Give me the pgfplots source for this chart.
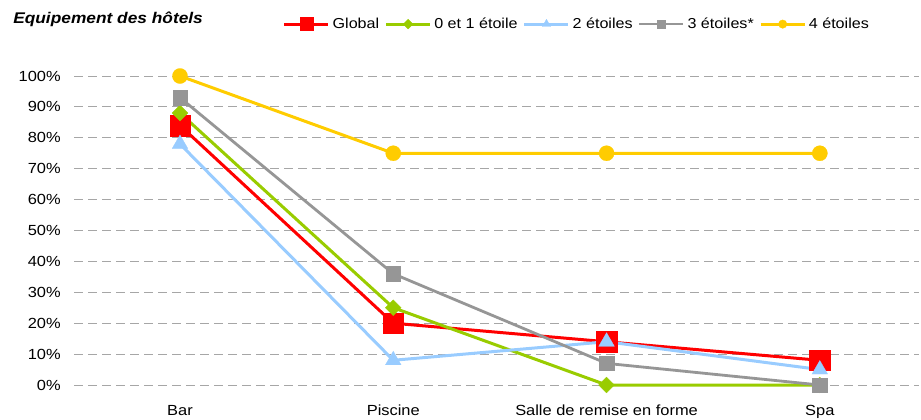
\documentclass[border=0pt]{standalone}
\usepackage{fontspec}
\setmainfont{Liberation Sans}[FakeStretch=1.12]
\usepackage{pgfplots}
\pgfplotsset{compat=1.18}

\definecolor{cGlobal}{HTML}{FF0000}
\definecolor{cUne}{HTML}{99CC00}
\definecolor{cDeux}{HTML}{99CCFF}
\definecolor{cTrois}{HTML}{969696}
\definecolor{cQuatre}{HTML}{FFCC00}
\definecolor{cGrid}{HTML}{A6A6A6}

\begin{document}
\begin{tikzpicture}
% page frame, 921 x 419 px at 0.75 pt per px
\path[use as bounding box] (0pt,0pt) rectangle (690.75pt,314.25pt);

\node[anchor=base west, inner sep=0pt, font=\fontsize{11.6}{13}\selectfont\bfseries\itshape]
  at (9.75pt,297pt) {Equipement des hôtels};

\begin{axis}[
  at={(55.5pt,25.5pt)}, anchor=south west,
  scale only axis,
  width=633.75pt, height=231.75pt,
  xmin=-0.497, xmax=3.465,
  ymin=0, ymax=100,
  clip=false,
  axis line style={draw=none},
  major tick length=0pt,
  xtick={0,1,2,3},
  xticklabels={Bar, Piscine, Salle de remise en forme, Spa},
  ytick={0,10,...,100},
  yticklabel={\pgfmathprintnumber{\tick}\%},
  /pgf/number format/assume math mode=true,
  tick label style={font=\fontsize{11}{13}\selectfont, inner sep=0pt},
  xticklabel style={anchor=base, yshift=-22.5pt},
  yticklabel style={anchor=east, xshift=-9.75pt},
  ymajorgrids,
  major grid style={draw=cGrid, line width=0.75pt, dash pattern=on 6.75pt off 3.75pt},
  legend columns=5,
  legend style={at={(0.2473,1.168)}, anchor=west, draw=none, fill=none,
    inner sep=0pt, outer sep=0pt,
    font=\fontsize{10.8}{13}\selectfont,
    nodes={inner sep=0pt},
    /tikz/every odd column/.append style={column sep=2pt},
    /tikz/every even column/.append style={column sep=4pt}},
  legend image code/.code={%
    \draw[mark repeat=2, mark phase=2] plot coordinates {(0pt,0pt) (16.5pt,0pt) (33pt,0pt)};},
]

% Global
\addplot[cGlobal, line width=2.25pt, mark=square*, mark size=7.7pt,
  mark options={solid, fill=cGlobal, draw=cGlobal, line width=0.2pt}, forget plot]
  coordinates {(0,84) (1,20) (2,14) (3,8)};
% 0 et 1 etoile
\addplot[cUne, line width=2.25pt, mark=square*, mark size=4.2pt,
  mark options={solid, fill=cUne, draw=cUne, line width=0.2pt, rotate=45}, forget plot]
  coordinates {(0,88) (1,25) (2,0) (3,0)};
% 2 etoiles
\addplot[cDeux, line width=2.25pt, mark=triangle*, mark size=6.8pt,
  mark options={solid, fill=cDeux, draw=cDeux, line width=0.2pt}, forget plot]
  coordinates {(0,78) (1,8) (2,14) (3,5)};
% 3 etoiles
\addplot[cTrois, line width=2.1pt, mark=square*, mark size=5.4pt,
  mark options={solid, fill=cTrois, draw=cTrois, line width=0.2pt}, forget plot]
  coordinates {(0,93) (1,36) (2,7) (3,0)};
% 4 etoiles
\addplot[cQuatre, line width=2.25pt, mark=*, mark size=5.7pt,
  mark options={solid, fill=cQuatre, draw=cQuatre, line width=0.2pt}, forget plot]
  coordinates {(0,100) (1,75) (2,75) (3,75)};

% legend keys, with smaller markers
\addlegendimage{cGlobal, line width=2.25pt, mark=square*, mark size=4.9pt,
  mark options={solid, fill=cGlobal, draw=cGlobal, line width=0.2pt}}
\addlegendentry{Global}
\addlegendimage{cUne, line width=2.25pt, mark=square*, mark size=2.6pt,
  mark options={solid, fill=cUne, draw=cUne, line width=0.2pt, rotate=45}}
\addlegendentry{0 et 1 étoile}
\addlegendimage{cDeux, line width=2.25pt, mark=triangle*, mark size=3.6pt,
  mark options={solid, fill=cDeux, draw=cDeux, line width=0.2pt}}
\addlegendentry{2 étoiles}
\addlegendimage{cTrois, line width=2.1pt, mark=square*, mark size=2.9pt,
  mark options={solid, fill=cTrois, draw=cTrois, line width=0.2pt}}
\addlegendentry{3 étoiles*}
\addlegendimage{cQuatre, line width=2.25pt, mark=*, mark size=3.2pt,
  mark options={solid, fill=cQuatre, draw=cQuatre, line width=0.2pt}}
\addlegendentry{4 étoiles}
\end{axis}
\end{tikzpicture}
\end{document}
